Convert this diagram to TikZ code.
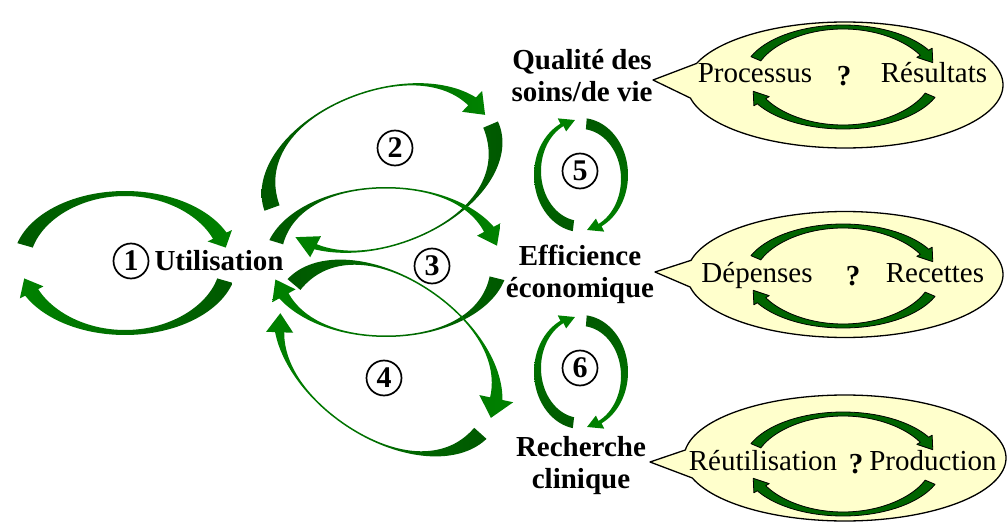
\documentclass[tikz,border=0pt]{standalone}
\usepackage{fontspec}
\setmainfont{Liberation Serif}
\definecolor{gdark}{RGB}{0,88,0}
\definecolor{gbright}{RGB}{0,130,0}
\definecolor{bubblefill}{RGB}{255,255,204}
\definecolor{sgreen}{RGB}{0,100,0}
\pgfkeys{/ca/.cd,
  cx/.initial=0, cy/.initial=0, rot/.initial=0,
  rx/.initial=100, ry/.initial=50,
  dx/.initial=0, dy/.initial=0, wx/.initial=10, wy/.initial=3, p/.initial=2,
  a/.initial=0, b/.initial=90, t/.initial=100, h/.initial=5}
\newcommand\carrow[2]{%
  \begingroup
  \pgfkeys{/ca/.cd,#2}%
  \edef\cCx{\pgfkeysvalueof{/ca/cx}}%
  \edef\cCy{\pgfkeysvalueof{/ca/cy}}%
  \edef\cRot{\pgfkeysvalueof{/ca/rot}}%
  \edef\cRx{\pgfkeysvalueof{/ca/rx}}%
  \edef\cRy{\pgfkeysvalueof{/ca/ry}}%
  \edef\cDx{\pgfkeysvalueof{/ca/dx}}%
  \edef\cDy{\pgfkeysvalueof{/ca/dy}}%
  \edef\cWx{\pgfkeysvalueof{/ca/wx}}%
  \edef\cWy{\pgfkeysvalueof{/ca/wy}}%
  \edef\cP{\pgfkeysvalueof{/ca/p}}%
  \edef\cA{\pgfkeysvalueof{/ca/a}}%
  \edef\cB{\pgfkeysvalueof{/ca/b}}%
  \edef\cT{\pgfkeysvalueof{/ca/t}}%
  \edef\cH{\pgfkeysvalueof{/ca/h}}%
  \pgfmathsetmacro\cFb{cos(\cB)*cos(\cB)}%
  \pgfmathsetmacro\cFt{cos(\cT)*cos(\cT)}%
  \ifnum\cP=4
    \pgfmathsetmacro\cFb{\cFb*\cFb}%
    \pgfmathsetmacro\cFt{\cFt*\cFt}%
    \def\cF{(cos(\q)*cos(\q)*cos(\q)*cos(\q))}%
  \else
    \def\cF{(cos(\q)*cos(\q))}%
  \fi
  \pgfmathsetmacro\cIrxB{\cRx-\cWy-(\cWx-\cWy)*\cFb}%
  \pgfmathsetmacro\cIryB{\cRy-\cWy-(\cWx-\cWy)*\cFb}%
  \pgfmathsetmacro\cIrxT{\cRx-\cWy-(\cWx-\cWy)*\cFt}%
  \pgfmathsetmacro\cIryT{\cRy-\cWy-(\cWx-\cWy)*\cFt}%
  \begin{scope}[shift={(\cCx,\cCy)},rotate=\cRot]
    \path[#1] plot[domain=\cA:\cB,samples=70,variable=\q] ({\cRx*cos(\q)},{\cRy*sin(\q)})
      -- ({(\cRx+\cH)*cos(\cB)},{(\cRy+\cH)*sin(\cB)})
      -- ({\cDx/2+(\cRx+\cIrxT)/2*cos(\cT)},{\cDy/2+(\cRy+\cIryT)/2*sin(\cT)})
      -- ({\cDx+(\cIrxB-\cH)*cos(\cB)},{\cDy+(\cIryB-\cH)*sin(\cB)})
      -- plot[domain=\cB:\cA,samples=70,variable=\q]
         ({\cDx+(\cRx-\cWy-(\cWx-\cWy)*\cF)*cos(\q)},{\cDy+(\cRy-\cWy-(\cWx-\cWy)*\cF)*sin(\q)})
      -- cycle;
  \end{scope}
  \endgroup}
\tikzset{
  ga/.style={left color=gdark, right color=gbright},
  gb/.style={left color=gbright, right color=gdark},
  gu/.style={bottom color=gdark, top color=gbright},
  gd/.style={top color=gdark, bottom color=gbright},
  sa/.style={fill=sgreen, draw=black, line width=0.8pt, line join=round},
  bubble/.style={fill=bubblefill, draw=black, line width=1.3pt, line join=round},
  lbl/.style={font=\bfseries\fontsize{29}{32}\selectfont, align=center, inner sep=0pt},
  num/.style={circle, draw, line width=1.7pt, minimum size=35pt, inner sep=0pt, font=\bfseries\fontsize{30}{30}\selectfont},
  btxt/.style={font=\fontsize{29}{32}\selectfont, inner sep=0pt, anchor=base},
  qm/.style={font=\bfseries\fontsize{29}{32}\selectfont, inner sep=0pt, anchor=base},
}
\begin{document}
\begin{tikzpicture}[x=1pt,y=-1pt]
\useasboundingbox (0,0) rectangle (1007,524);
% ---- callout bubbles
\path[bubble] (653,80) -- plot[domain=168:-160,samples=150,variable=\q] ({845+158*cos(\q)},{85+63*sin(\q)}) -- cycle;
\path[bubble] (655,272) -- plot[domain=168.5:-167,samples=150,variable=\q] ({845+158*cos(\q)},{274.5+63*sin(\q)}) -- cycle;
\path[bubble] (650,462) -- plot[domain=161.5:-172.7,samples=150,variable=\q] ({845+161*cos(\q)},{458+63*sin(\q)}) -- cycle;
% ---- small arrows in bubbles
\foreach \yy in {77,276,464}{
  \carrow{sa}{cx=843,cy=\yy,rx=100,ry=52,wx=12,wy=4,h=4,a=203,b=329,t=342}
  \carrow{sa}{cx=843,cy=\yy,rx=100,ry=52,wx=12,wy=4,h=4,a=23,b=149,t=162}
}
% ---- arrow 1
\carrow{ga}{cx=125,cy=263,rx=112,ry=72,wx=17,wy=5,h=6,a=196,b=335,t=346}
\carrow{gb}{cx=125,cy=263,rx=112,ry=72,wx=17,wy=5,h=6,a=16,b=153,t=166}
% ---- arrow 2
\carrow{ga}{cx=382,cy=168,rot=20,rx=125,ry=78,wx=16,wy=1.5,p=4,h=9,a=180,b=334,t=348}
\carrow{gb}{cx=382,cy=168,rot=20,rx=125,ry=78,wx=16,wy=1.5,p=4,h=9,a=-3,b=137,t=151}
% ---- arrow 3
\carrow{ga}{cx=386,cy=262,rx=122,ry=75,wx=17,wy=1.5,p=4,h=8,a=197,b=332,t=346}
\carrow{gb}{cx=386,cy=262,rx=122,ry=75,wx=17,wy=1.5,p=4,h=8,a=14,b=151,t=165}
% ---- arrow 4
\carrow{ga}{cx=388,cy=358,rot=-35,rx=128,ry=80,wx=17,wy=1.5,p=4,h=11,a=185,b=337,t=352}
\carrow{gb}{cx=388,cy=358,rot=-35,rx=128,ry=80,wx=17,wy=1.5,p=4,h=9,a=7,b=147,t=160}
% ---- arrows 5 and 6
\foreach \yy in {175,372}{
  \carrow{gu}{cx=581,cy=\yy,rx=47,ry=57,dy=-4,wx=7,wy=7,h=6,a=100,b=244,t=262}
  \carrow{gd}{cx=581,cy=\yy,rx=47,ry=57,dy=4,wx=7,wy=7,h=6,a=277,b=424,t=442}
}
% ---- labels
\node[lbl] (qual) at (582,76) {Qualité des\\soins/de vie};
\node[lbl] (eff) at (580,274.5) {Efficience\\économique};
\node[lbl] (rech) at (581,466) {Recherche\\clinique};
\node[lbl, anchor=base] (util) at (219,270) {Utilisation};
\node[num] (n1) at (131,261) {1};
\node[num] (n2) at (395,148) {2};
\node[num] (n3) at (432,266) {3};
\node[num] (n4) at (384,378) {4};
\node[num] (n5) at (580,171) {5};
\node[num] (n6) at (580,368) {6};
% ---- bubble texts
\node[btxt] (proc) at (755,83) {Processus};
\node[qm] (q1) at (844,86) {?};
\node[btxt] (res) at (934,83) {Résultats};
\node[btxt] (dep) at (757,282) {Dépenses};
\node[qm] (q2) at (853,285) {?};
\node[btxt] (rec) at (935,282) {Recettes};
\node[btxt] (reu) at (763,470) {Réutilisation};
\node[qm] (q3) at (856,473) {?};
\node[btxt] (prod) at (933,470) {Production};
\end{tikzpicture}
\end{document}
